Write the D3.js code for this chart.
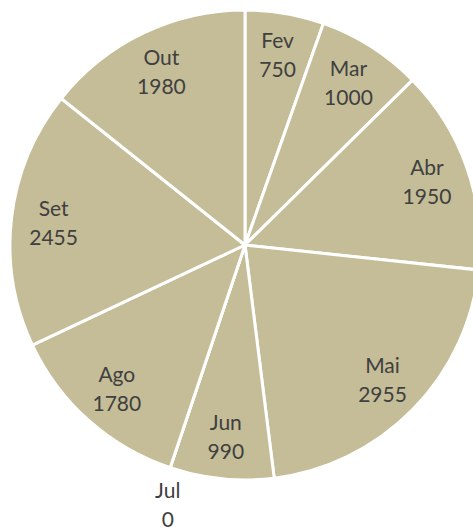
<!DOCTYPE html>
<html><head><meta charset="utf-8">
<script src="https://cdn.jsdelivr.net/npm/d3@7"></script>
<style>body{margin:0;background:#fff;}svg{display:block;}</style>
</head><body>
<svg id="c" width="473" height="530"></svg>
<script>
const months = ["Fev","Mar","Abr","Mai","Jun","Jul","Ago","Set","Out"];
const values = [750,1000,1950,2955,990,0,1780,2455,1980];

const svg = d3.select("#c");
const cx = 245, cy = 245, R = 235;
const g = svg.append("g").attr("transform", `translate(${cx},${cy})`);

const data = months.map((m,i)=>({label:m, value:values[i]}));
const pie = d3.pie().value(d=>d.value).sort(null);
const arcs = pie(data);
const arc = d3.arc().innerRadius(0).outerRadius(R);

g.selectAll("path").data(arcs).enter().append("path")
  .attr("d", arc)
  .attr("fill", "#C4BD97")
  .attr("stroke", "#fff")
  .attr("stroke-width", 3)
  .attr("stroke-linejoin", "round");

const labels = g.selectAll("g.lab").data(arcs).enter().append("g")
  .attr("class","lab")
  .attr("transform", d=>{
    let a = (d.startAngle + d.endAngle)/2;
    let r = R*0.82;
    if (d.value === 0) { r = R + 36; a -= 0.035; }
    const x = Math.sin(a)*r, y = -Math.cos(a)*r;
    return `translate(${x},${y})`;
  });
labels.append("text").attr("text-anchor","middle").attr("y",-14).attr("dy","0.35em")
  .attr("font-family","Lato, 'Open Sans', sans-serif").attr("font-size",21).attr("fill","#404040")
  .text(d=>d.data.label);
labels.append("text").attr("text-anchor","middle").attr("y",15).attr("dy","0.35em")
  .attr("font-family","Lato, 'Open Sans', sans-serif").attr("font-size",21).attr("fill","#404040")
  .text(d=>d.data.value);
</script>
</body></html>
